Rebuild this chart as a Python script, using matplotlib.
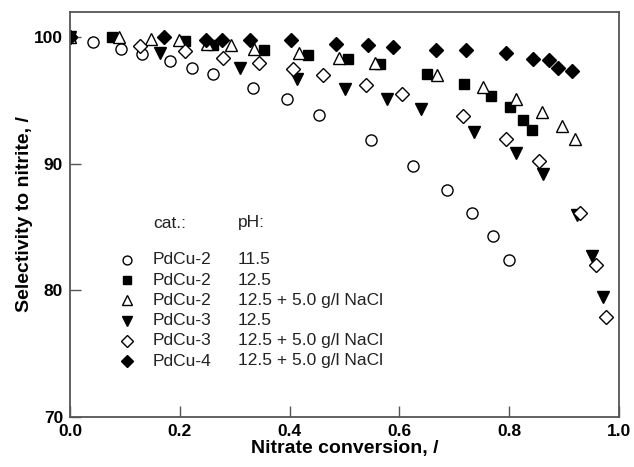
import matplotlib
matplotlib.use("Agg")
import matplotlib.pyplot as plt

plt.rcParams["font.family"] = ["Liberation Sans", "DejaVu Sans"]

# PdCu-2, pH 11.5 (open circles)
x_c2_115 = [0.0, 0.042, 0.092, 0.132, 0.182, 0.223, 0.26, 0.333, 0.396, 0.454,
            0.549, 0.625, 0.687, 0.733, 0.771, 0.800]
y_c2_115 = [100.0, 99.6, 99.1, 98.65, 98.1, 97.6, 97.1, 96.0, 95.1, 93.9,
            91.85, 89.8, 87.9, 86.1, 84.3, 82.4]

# PdCu-2, pH 12.5 (filled squares)
x_c2_125 = [0.0, 0.076, 0.209, 0.26, 0.354, 0.434, 0.506, 0.565, 0.650, 0.718,
            0.766, 0.801, 0.826, 0.842]
y_c2_125 = [100.0, 100.0, 99.7, 99.4, 99.0, 98.6, 98.3, 97.9, 97.1, 96.3,
            95.4, 94.5, 93.5, 92.7]

# PdCu-2, pH 12.5 + NaCl (open triangles)
x_c2_nacl = [0.0, 0.09, 0.147, 0.199, 0.25, 0.293, 0.335, 0.417, 0.49, 0.556,
             0.668, 0.753, 0.812, 0.860, 0.896, 0.920]
y_c2_nacl = [100.0, 100.0, 99.9, 99.8, 99.5, 99.4, 99.1, 98.8, 98.4, 98.0,
             97.05, 96.1, 95.1, 94.1, 93.0, 92.0]

# PdCu-3, pH 12.5 (filled down triangles)
x_c3_125 = [0.0, 0.164, 0.31, 0.414, 0.501, 0.577, 0.639, 0.736, 0.812, 0.862,
            0.923, 0.951, 0.970]
y_c3_125 = [100.0, 98.8, 97.6, 96.7, 95.9, 95.1, 94.3, 92.5, 90.85, 89.2,
            86.0, 82.7, 79.5]

# PdCu-3, pH 12.5 + NaCl (open diamonds)
x_c3_nacl = [0.0, 0.1275, 0.209, 0.279, 0.345, 0.407, 0.461, 0.539, 0.605,
             0.715, 0.795, 0.854, 0.929, 0.958, 0.977]
y_c3_nacl = [100.0, 99.3, 98.9, 98.4, 98.0, 97.5, 97.0, 96.2, 95.5,
             93.8, 92.0, 90.2, 86.1, 82.0, 77.9]

# PdCu-4, pH 12.5 + NaCl (filled diamonds)
x_c4_nacl = [0.0, 0.171, 0.247, 0.277, 0.327, 0.403, 0.484, 0.542, 0.589,
             0.666, 0.721, 0.794, 0.843, 0.872, 0.888, 0.915]
y_c4_nacl = [100.0, 100.0, 99.8, 99.8, 99.8, 99.8, 99.5, 99.4, 99.26,
             99.0, 99.0, 98.75, 98.3, 98.2, 97.55, 97.35]

cat_labels = ["PdCu-2", "PdCu-2", "PdCu-2", "PdCu-3", "PdCu-3", "PdCu-4"]
ph_labels = ["11.5", "12.5", "12.5 + 5.0 g/l NaCl", "12.5",
             "12.5 + 5.0 g/l NaCl", "12.5 + 5.0 g/l NaCl"]

series = [
    (x_c2_115, y_c2_115, dict(marker="o", ms=8, mfc="white")),
    (x_c2_125, y_c2_125, dict(marker="s", ms=7, mfc="black")),
    (x_c2_nacl, y_c2_nacl, dict(marker="^", ms=9, mfc="white")),
    (x_c3_125, y_c3_125, dict(marker="v", ms=9, mfc="black")),
    (x_c3_nacl, y_c3_nacl, dict(marker="D", ms=7.5, mfc="white")),
    (x_c4_nacl, y_c4_nacl, dict(marker="D", ms=7.5, mfc="black")),
]

fig = plt.figure(figsize=(6.34, 4.67), dpi=100)
ax = fig.add_axes([70 / 634, 1 - 417 / 467, 549 / 634, 405 / 467])

for xs, ys, style in series:
    ax.plot(xs, ys, ls="none", mec="black", mew=1.0, **style)

ax.set_xlim(0, 1.0)
ax.set_ylim(70, 102)
ax.set_xticks([0.0, 0.2, 0.4, 0.6, 0.8, 1.0])
ax.set_xticklabels(["0.0", "0.2", "0.4", "0.6", "0.8", "1.0"])
ax.set_yticks([70, 80, 90, 100])
ax.tick_params(axis="both", direction="in", length=8, width=1.0,
               color="#555555", labelsize=12.5)
ax.tick_params(axis="x", pad=5)
ax.tick_params(axis="y", pad=5)
for lab in ax.get_xticklabels() + ax.get_yticklabels():
    lab.set_fontweight("bold")
for sp in ax.spines.values():
    sp.set_color("#555555")
    sp.set_linewidth(1.3)

ax.set_xlabel("Nitrate conversion, /", fontsize=14, fontweight="bold", labelpad=1)
ax.set_ylabel("Selectivity to nitrite, /", fontsize=14, fontweight="bold", labelpad=1)

# hand-built legend
mx, tx, px = (127 - 70) / 549, (153 - 70) / 549, (238 - 70) / 549
txt_kw = dict(transform=ax.transAxes, fontsize=12.5, va="center", ha="left",
              color="#222222")
ax.text(tx, (417 - 223) / 405, "cat.:", **txt_kw)
ax.text(px, (417 - 223) / 405, "pH:", **txt_kw)
for i, ((_, _, style), cat, ph) in enumerate(zip(series, cat_labels, ph_labels)):
    yy = (417 - (260 + 20.2 * i)) / 405
    st = dict(style)
    st["ms"] = st["ms"] * 0.8
    ax.plot([mx], [yy], transform=ax.transAxes, ls="none", mec="black",
            mew=1.0, clip_on=False, **st)
    ax.text(tx, yy, cat, **txt_kw)
    ax.text(px, yy, ph, **txt_kw)

fig.savefig("out.png", dpi=100)
